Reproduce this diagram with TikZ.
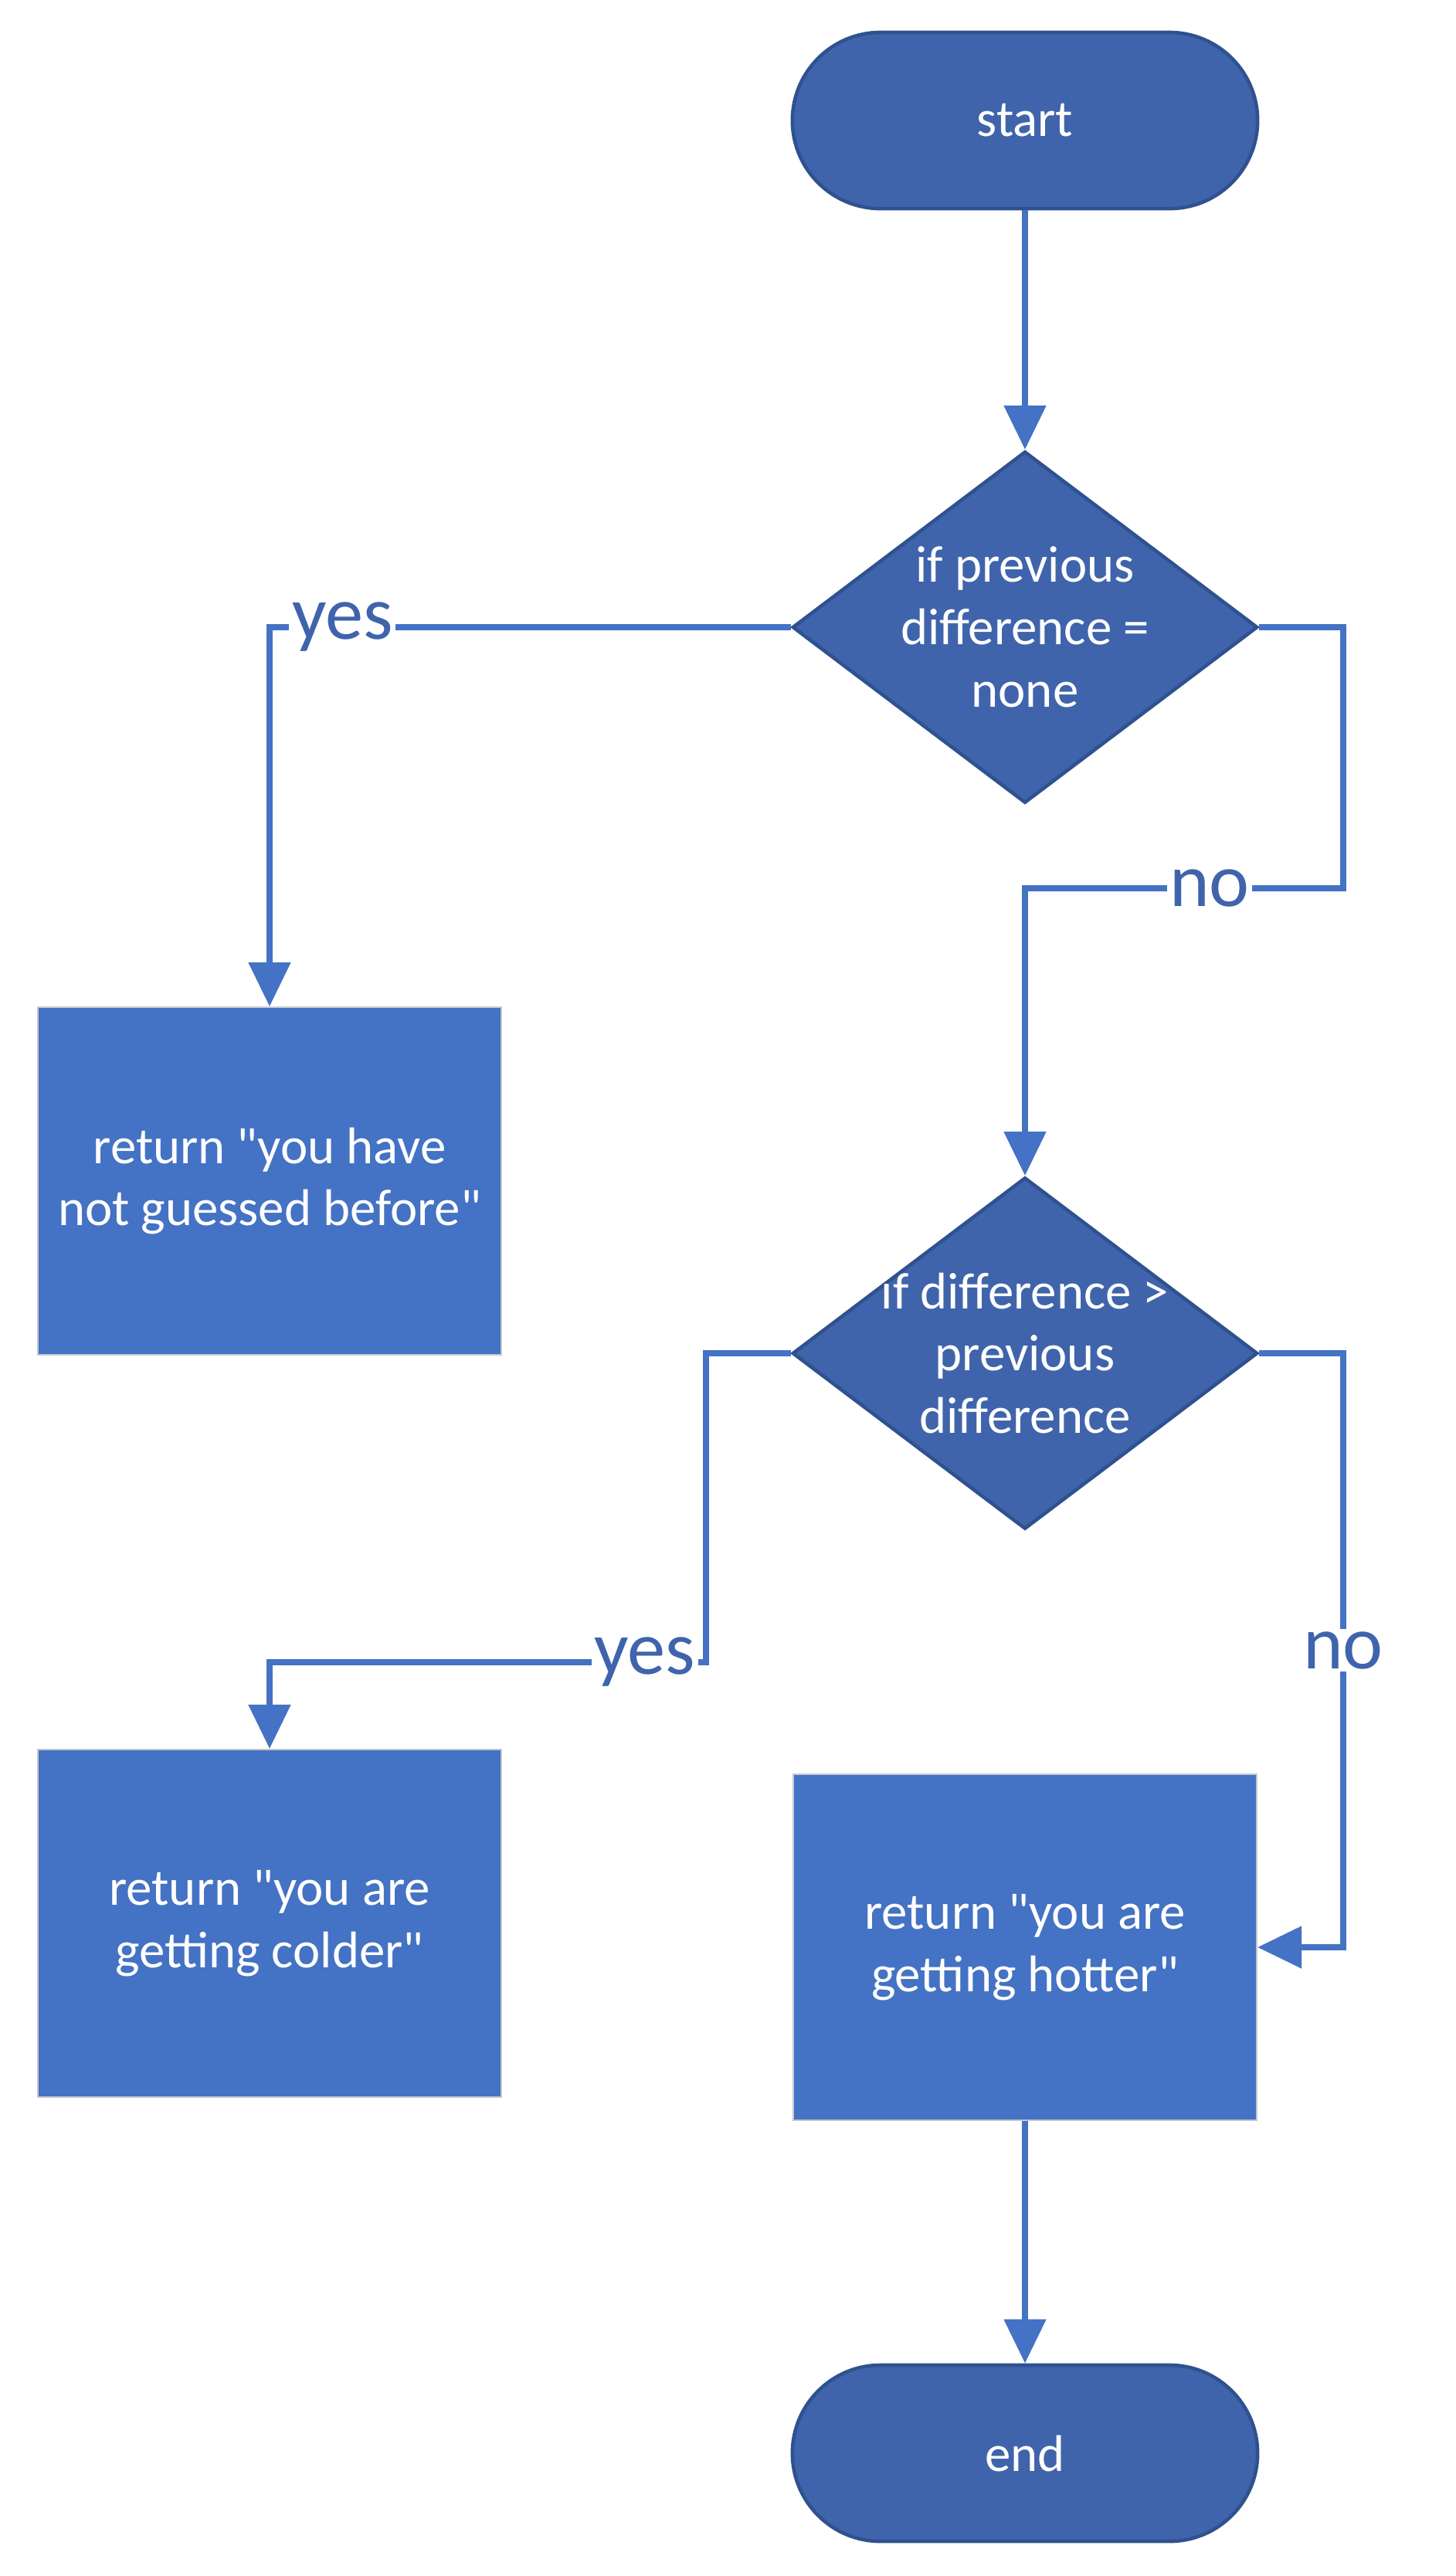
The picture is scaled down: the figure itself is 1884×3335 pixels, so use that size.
\documentclass[tikz,border=0pt]{standalone}
\usepackage{fontspec}
\setmainfont{Carlito}
\usepackage{tikz}
\usetikzlibrary{arrows.meta, shapes.geometric, calc}
\definecolor{flowDark}{RGB}{63,100,172}
\definecolor{flowEdge}{RGB}{47,82,143}
\definecolor{flowBlue}{RGB}{68,114,196}
\definecolor{flowGrey}{RGB}{196,200,210}

\begin{document}
\begin{tikzpicture}[x=0.01cm, y=-0.01cm,
    terminal/.style={rectangle, rounded corners=1.14cm, draw=flowEdge, line width=1.3pt,
        fill=flowDark, minimum width=6.02cm, minimum height=2.28cm,
        text=white, font=\fontsize{19}{23}\selectfont},
    decision/.style={diamond, draw=flowEdge, line width=1.3pt, fill=flowDark,
        inner sep=0pt, minimum width=6.02cm, minimum height=4.55cm},
    dtext/.style={text=white, align=center, font=\fontsize{19}{23}\selectfont},
    retbox/.style={rectangle, draw=flowGrey, line width=0.5pt, fill=flowBlue,
        minimum width=6.0cm, minimum height=4.5cm,
        align=center, text=white, font=\fontsize{19}{23}\selectfont},
    arrow/.style={-{Triangle[width=0.53cm, length=0.57cm]}, line width=2.3pt, flowBlue},
    lbl/.style={fill=white, inner sep=1pt, text=flowDark, font=\fontsize{28}{32}\selectfont}
]
\useasboundingbox (0,0) rectangle (1884,3335);

\node[terminal] (start) at (1327,156) {start};
\node[decision, label={[dtext]center:if previous\\difference =\\none}] (ifnone) at (1327,812) {};
\node[retbox] (notbefore) at (349,1529) {return \textquotedbl you have\\not guessed before\textquotedbl};
\node[decision, label={[dtext]center:if difference >\\previous\\difference}] (ifbigger) at (1327,1752) {};
\node[retbox] (colder) at (349,2490) {return \textquotedbl you are\\getting colder\textquotedbl};
\node[retbox, minimum height=4.48cm] (hotter) at (1327,2521) {return \textquotedbl you are\\getting hotter\textquotedbl};
\node[terminal] (finish) at (1327,3176) {end};

\coordinate (nobend) at (1739,1150);
\coordinate (yesbend) at (914,2152);
\coordinate (hotbend) at (1739,2521);

\draw[arrow] (start) -- (ifnone);
\draw[arrow] (ifnone.west) -| node[lbl, pos=0.43] {yes} (notbefore.north);
\draw[arrow] (ifnone.east) -| (nobend) -- node[lbl, pos=0.42] {no} (nobend -| ifbigger.north) -- (ifbigger.north);
\draw[arrow] (ifbigger.west) -| (yesbend) -- node[lbl, pos=0.14] {yes} (yesbend -| colder.north) -- (colder.north);
\draw[arrow] (ifbigger.east) -| node[lbl, pos=0.75] {no} (hotbend) -- (hotter.east);
\draw[arrow] (hotter) -- (finish);
\end{tikzpicture}
\end{document}
